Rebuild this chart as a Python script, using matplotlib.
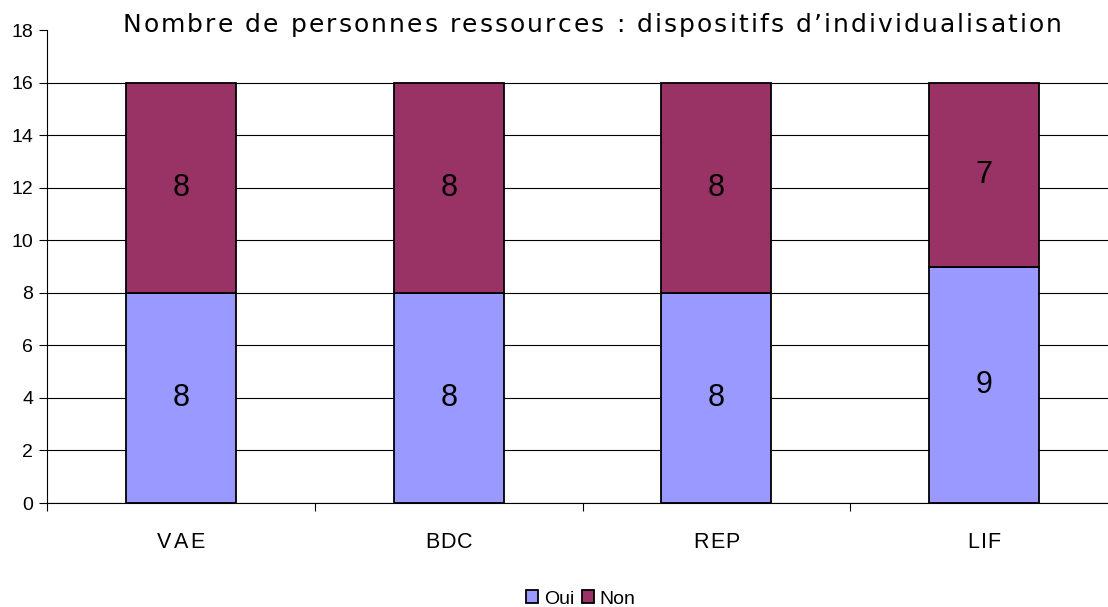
import matplotlib.pyplot as plt
import numpy as np

categories = ['VAE', 'BDC', 'REP', 'LIF']
oui = [8, 8, 8, 9]
non = [8, 8, 8, 7]
y_ticks = [0, 2, 4, 6, 8, 10, 12, 14, 16, 18]
titre = 'Nombre de personnes ressources : dispositifs d\u2019individualisation'

plt.rcParams['font.family'] = ['Liberation Sans', 'DejaVu Sans']

W, H = 1108, 607
fig = plt.figure(figsize=(W / 100, H / 100), dpi=100)
ax = fig.add_axes([47 / W, 1 - 503 / H, 1071 / W, 473 / H])


def texte_espace(x_px, y_px, s, largeur, **kw):
    # texte étalé sur une largeur donnée (en pixels), centré sur x_px
    renderer = fig.canvas.get_renderer()
    larg = []
    for ch in s:
        t = fig.text(0, 0, ch if ch != ' ' else 'a a', **kw)
        w = t.get_window_extent(renderer).width
        if ch == ' ':
            t2 = fig.text(0, 0, 'aa', **kw)
            w = w - t2.get_window_extent(renderer).width
            t2.remove()
        t.remove()
        larg.append(w)
    espace = (largeur - sum(larg)) / (len(s) - 1)
    x0 = x_px - largeur / 2
    for ch, w in zip(s, larg):
        fig.text(x0 / W, 1 - y_px / H, ch, ha='left', va='center', **kw)
        x0 += w + espace


x = np.arange(len(categories))
b1 = ax.bar(x, oui, width=0.41, color='#9999FF', edgecolor='black', linewidth=1.3, label='Oui', zorder=3)
b2 = ax.bar(x, non, width=0.41, bottom=oui, color='#993366', edgecolor='black', linewidth=1.3, label='Non', zorder=3)

for i in range(len(categories)):
    ax.text(x[i], oui[i] / 2, str(oui[i]), ha='center', va='center', fontsize=22, zorder=4)
    ax.text(x[i], oui[i] + non[i] / 2, str(non[i]), ha='center', va='center', fontsize=22, zorder=4)

ax.set_xlim(-0.5, 3.5)
ax.set_ylim(0, 18)
ax.set_yticks(y_ticks)
ax.tick_params(axis='y', labelsize=14, length=6, width=0.8, direction='out', pad=4)
ax.yaxis.grid(True, color='black', linewidth=0.8, zorder=0)
ax.get_ygridlines()[-1].set_visible(False)
ax.set_axisbelow(True)

ax.set_xticks(x)
ax.set_xticklabels([])
ax.tick_params(axis='x', length=0)
ax.set_xticks(np.arange(-0.5, 3.5, 1), minor=True)
ax.tick_params(axis='x', which='minor', length=6, width=0.8, direction='out')

for s in ['top', 'right']:
    ax.spines[s].set_visible(False)
ax.spines['left'].set_linewidth(0.8)
ax.spines['bottom'].set_linewidth(0.8)

# étiquettes des catégories
largeurs_cat = [47, 47, 47, 33]
for i, cat in enumerate(categories):
    px = 47 + (i + 0.5) * 1071 / 4
    texte_espace(px, 543, cat, largeurs_cat[i], fontsize=15.5)

texte_espace(592, 25, titre, 939, fontsize=18, family='DejaVu Sans')

fig.legend(handles=[b1, b2], loc='center', bbox_to_anchor=(581 / W, 1 - 599 / H),
           ncol=2, frameon=False, fontsize=14, handlelength=0.6, handleheight=0.6,
           handletextpad=0.3, columnspacing=0.4, borderpad=0)

fig.savefig('out.png', dpi=100)
